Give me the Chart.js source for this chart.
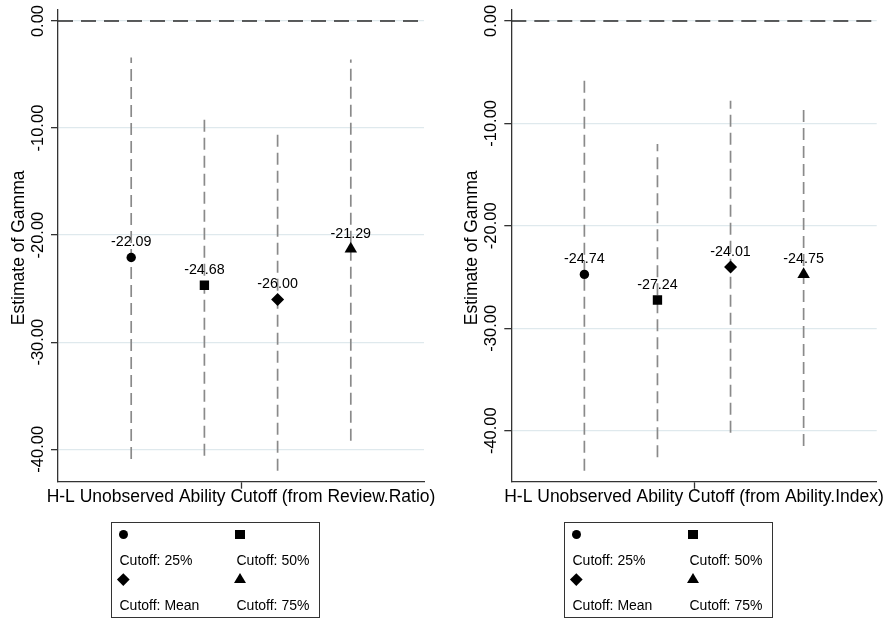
<!DOCTYPE html>
<html>
<head>
<meta charset="utf-8">
<script src="https://cdn.jsdelivr.net/npm/chart.js@4.4.1/dist/chart.umd.min.js"></script>
<style>
  body { margin: 0; background: #fff; }
  #wrap { position: relative; width: 885px; height: 621px; overflow: hidden;
          font-family: "Liberation Sans", Arial, sans-serif; }
  #wrap canvas { position: absolute; top: 0; }
  .legend { position: absolute; top: 521.7px; width: 209px; height: 96.6px;
            border: 1.2px solid #333; box-sizing: border-box; }
  .legend .txt { position: absolute; font-size: 14px; line-height: 16px; color: #000; white-space: nowrap; }
  .legend .mk { position: absolute; }
  .mk.circle { width: 9px; height: 9px; border-radius: 50%; background: #000; margin: -4.5px 0 0 -4.5px; }
  .mk.rect { width: 9.3px; height: 9.3px; background: #000; margin: -4.65px 0 0 -4.65px; }
  .mk.rectRot { width: 8.6px; height: 8.6px; background: #000; margin: -4.3px 0 0 -4.3px; transform: rotate(45deg); }
  .mk.triangle { width: 0; height: 0; border-left: 6px solid transparent; border-right: 6px solid transparent;
                 border-bottom: 10.5px solid #000; margin: -6.5px 0 0 -6px; }
</style>
</head>
<body>
<div id="wrap">
  <canvas id="panelReview" width="442" height="621" style="left:0px"></canvas>
  <canvas id="panelAbility" width="442" height="621" style="left:443px"></canvas>
  <div class="legend" id="legendReview" style="left:111px"></div>
  <div class="legend" id="legendAbility" style="left:564px"></div>
</div>
<script>
// Cutoff groups and their marker shapes
const cutoffLabels = ['Cutoff: 25%', 'Cutoff: 50%', 'Cutoff: Mean', 'Cutoff: 75%'];
const markerStyles = ['circle', 'rect', 'rectRot', 'triangle'];
const markerRadii = [4.7, 6.6, 6.5, 7.2];

// Estimates of gamma with confidence bounds, cutoff from Review.Ratio
const reviewEstimates = [-22.09, -24.68, -26.00, -21.29];
const reviewUpper = [-3.4, -8.8, -10.2, -3.6];
const reviewLower = [-40.9, -40.6, -42.0, -39.2];

// Estimates of gamma with confidence bounds, cutoff from Ability.Index
const abilityEstimates = [-24.74, -27.24, -24.01, -24.75];
const abilityUpper = [-5.6, -12.0, -7.8, -8.2];
const abilityLower = [-43.9, -42.6, -40.2, -41.5];

// Value axis ticks
const yTickValues = [0, -10, -20, -30, -40];

const FONT = '"Liberation Sans", Arial, sans-serif';

// Draws rotated tick labels, axis titles and the value labels above markers
const panelText = {
  id: 'panelText',
  afterDraw(chart, args, opts) {
    const { ctx, chartArea, scales: { y } } = chart;
    ctx.save();
    ctx.fillStyle = '#000';
    ctx.textAlign = 'center';
    ctx.textBaseline = 'middle';

    ctx.font = '16.5px ' + FONT;
    y.ticks.forEach(t => {
      const py = y.getPixelForValue(t.value);
      ctx.save();
      ctx.translate(chartArea.left - 19.5, py);
      ctx.rotate(-Math.PI / 2);
      ctx.fillText(t.value.toFixed(2), 0, 0);
      ctx.restore();
    });

    ctx.font = '17.5px ' + FONT;
    ctx.save();
    ctx.translate(chartArea.left - 39, (chartArea.top + chartArea.bottom) / 2 + 2);
    ctx.rotate(-Math.PI / 2);
    ctx.fillText(opts.yTitle, 0, 0);
    ctx.restore();

    ctx.fillText(opts.xTitle, (chartArea.left + chartArea.right) / 2, 496.7);

    ctx.font = '14.3px ' + FONT;
    chart.data.datasets.forEach((ds, i) => {
      if (!ds.valueLabel) return;
      const el = chart.getDatasetMeta(i).data[0];
      ctx.fillText(ds.data[0].y.toFixed(2), el.x, el.y - 15);
    });
    ctx.restore();
  }
};

function makePanel(canvasId, est, upper, lower, yMin, yMax, axisWidth, padRight, xTitle) {
  const datasets = [];
  est.forEach((v, i) => {
    datasets.push({
      label: cutoffLabels[i],
      data: [{ x: i + 1, y: v }],
      pointStyle: markerStyles[i],
      pointRadius: markerRadii[i],
      backgroundColor: '#000',
      borderColor: '#000',
      borderWidth: 0,
      valueLabel: true,
      order: 0
    });
  });
  est.forEach((v, i) => {
    datasets.push({
      data: [{ x: i + 1, y: lower[i] }, { x: i + 1, y: upper[i] }],
      showLine: true,
      borderColor: '#8a8a8a',
      borderWidth: 1.7,
      borderDash: [12, 6],
      pointRadius: 0,
      order: 1
    });
  });
  datasets.push({
    data: [{ x: 0, y: 0 }, { x: 5, y: 0 }],
    showLine: true,
    borderColor: '#2a2a2a',
    borderWidth: 1.4,
    borderDash: [15, 8],
    pointRadius: 0,
    order: 2
  });

  return new Chart(document.getElementById(canvasId), {
    type: 'scatter',
    data: { datasets },
    plugins: [panelText],
    options: {
      responsive: false,
      animation: false,
      events: [],
      layout: { padding: { left: 0, top: 10, right: padRight, bottom: 0 } },
      plugins: {
        legend: { display: false },
        tooltip: { enabled: false },
        panelText: { xTitle, yTitle: 'Estimate of Gamma' }
      },
      scales: {
        x: {
          type: 'linear', min: 0, max: 5, position: 'bottom',
          afterBuildTicks: s => { s.ticks = [{ value: 2.5 }]; },
          afterFit: s => { s.height = 621 - 481.7; },
          ticks: { display: false },
          grid: { drawOnChartArea: false, drawTicks: true, tickLength: 7,
                  color: 'rgba(0,0,0,0)', tickColor: '#333', tickWidth: 1.3 },
          border: { display: true, color: '#333', width: 1.3 }
        },
        y: {
          type: 'linear', min: yMin, max: yMax, position: 'left',
          afterBuildTicks: s => { s.ticks = yTickValues.map(v => ({ value: v })); },
          afterFit: s => { s.width = axisWidth; },
          ticks: { display: false },
          grid: { color: '#dfe9ed', lineWidth: 1.3, drawTicks: true, tickLength: 7,
                  tickColor: '#333', tickWidth: 1.3 },
          border: { display: true, color: '#333', width: 1.3 }
        }
      }
    }
  });
}

makePanel('panelReview', reviewEstimates, reviewUpper, reviewLower, -43.03, 1.03, 58, 18,
          'H-L Unobserved Ability Cutoff (from Review.Ratio)');
makePanel('panelAbility', abilityEstimates, abilityUpper, abilityLower, -44.98, 1.07, 68.3, 8.3,
          'H-L Unobserved Ability Cutoff (from Ability.Index)');

// Legend boxes below each panel
function buildLegend(id) {
  const box = document.getElementById(id);
  const pos = [
    { mx: 11.3, my: 11.6, tx: 7.5, ty: 37.6 },
    { mx: 128, my: 11.6, tx: 124.5, ty: 37.6 },
    { mx: 11.3, my: 56.6, tx: 7.5, ty: 82.6 },
    { mx: 128, my: 56.6, tx: 124.5, ty: 82.6 }
  ];
  cutoffLabels.forEach((label, i) => {
    const mk = document.createElement('div');
    mk.className = 'mk ' + markerStyles[i];
    mk.style.left = pos[i].mx + 'px';
    mk.style.top = pos[i].my + 'px';
    box.appendChild(mk);
    const t = document.createElement('div');
    t.className = 'txt';
    t.textContent = label;
    t.style.left = pos[i].tx + 'px';
    t.style.top = (pos[i].ty - 8) + 'px';
    box.appendChild(t);
  });
}
buildLegend('legendReview');
buildLegend('legendAbility');
</script>
</body>
</html>
